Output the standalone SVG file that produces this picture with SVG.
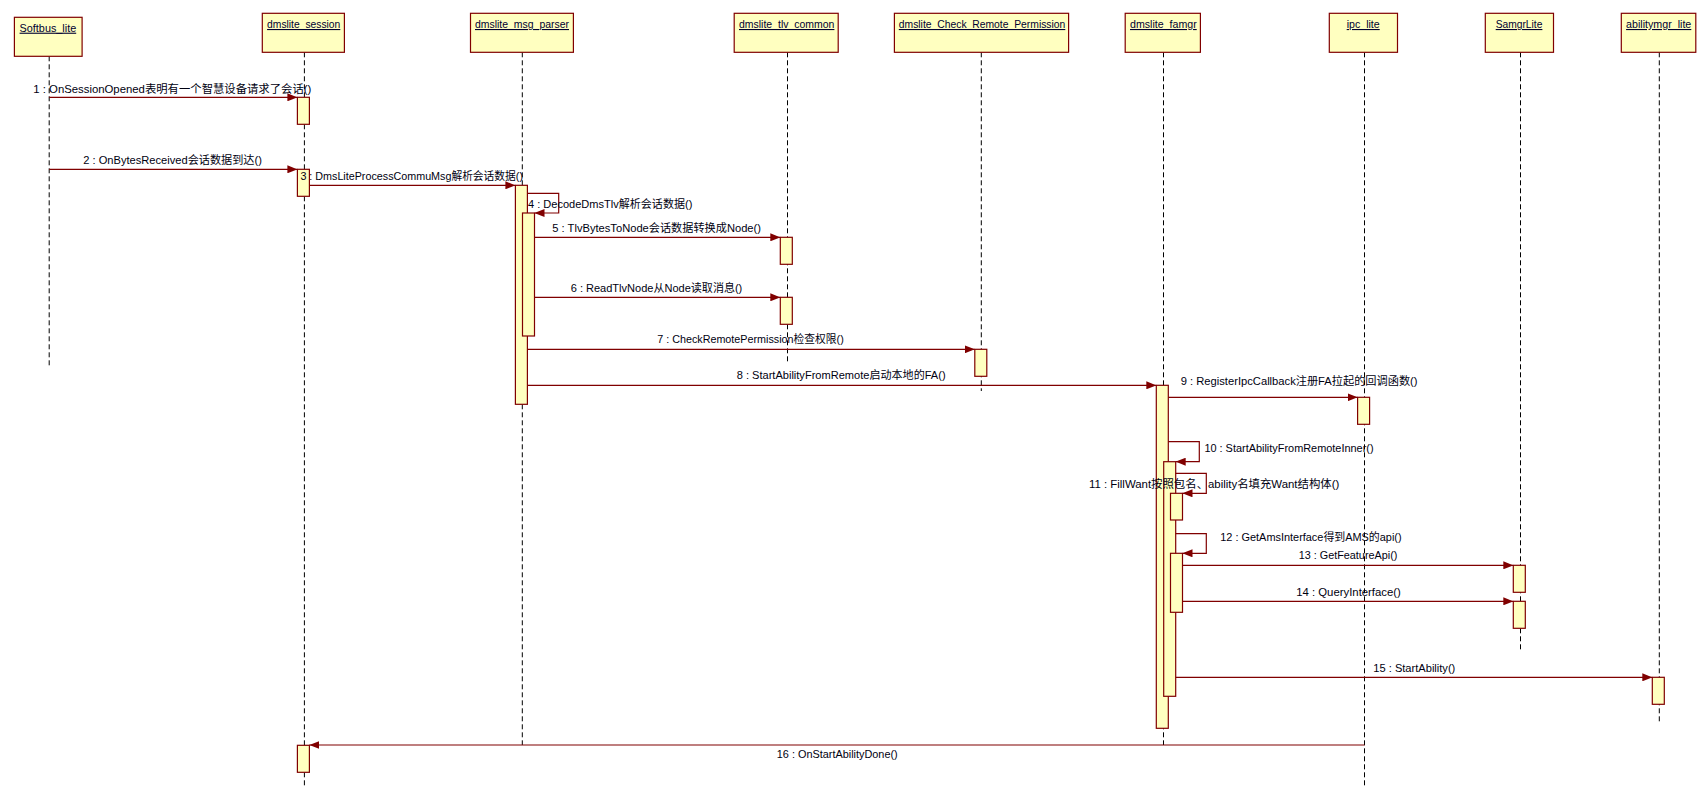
<svg xmlns="http://www.w3.org/2000/svg" width="1701" height="795" viewBox="0 0 1701 795">
<style>
.bg{fill:#ffffff}
.obj{fill:#ffffc0;stroke:#800000;stroke-width:1.2}
.act{fill:#ffffc0;stroke:#800000;stroke-width:1.2}
.life{stroke:#000000;stroke-width:1;stroke-dasharray:5,3;fill:none}
.hdr{font-family:"Liberation Sans","Noto Sans CJK SC",sans-serif;font-size:11px;fill:#000030;text-decoration:underline}
.msg{stroke:#800000;stroke-width:1.2;fill:none}
.lbl{font-family:"Liberation Sans","Noto Sans CJK SC",sans-serif;font-size:11px;fill:#000010}
</style>
<defs>
<marker id="ah" viewBox="0 0 10 8" refX="10" refY="4" markerWidth="10" markerHeight="8" markerUnits="userSpaceOnUse" orient="auto">
<path d="M0,0 L10,4 L0,8 Z" fill="#800000"/>
</marker>
</defs>
<rect class="bg" x="0" y="0" width="1701" height="795"/>

<g id="softbus_lite">
<line class="life" x1="49.2" y1="56.3" x2="49.2" y2="366"/>
<rect class="obj" x="14.4" y="17.3" width="67.7" height="39"/>
<text class="hdr" x="19.6" y="31.7" textLength="56.6" lengthAdjust="spacingAndGlyphs">Softbus_lite</text>
</g>

<g id="dmslite_session">
<line class="life" x1="304.4" y1="52.3" x2="304.4" y2="788"/>
<rect class="obj" x="262.3" y="13.3" width="82.1" height="39"/>
<text class="hdr" x="267.1" y="28" textLength="73.2" lengthAdjust="spacingAndGlyphs">dmslite_session</text>
<rect class="act" x="297.4" y="97.3" width="12" height="27"/>
<rect class="act" x="297.4" y="169.3" width="12" height="27"/>
<rect class="act" x="297.4" y="745.3" width="12" height="27"/>
</g>

<g id="dmslite_msg_parser">
<line class="life" x1="522.3" y1="52.3" x2="522.3" y2="745"/>
<rect class="obj" x="470.5" y="13.3" width="102.9" height="39"/>
<text class="hdr" x="475" y="28" textLength="94" lengthAdjust="spacingAndGlyphs">dmslite_msg_parser</text>
<rect class="act" x="515.4" y="185.3" width="12" height="219"/>
<rect class="act" x="522.5" y="213" width="12" height="123"/>
</g>

<g id="dmslite_tlv_common">
<line class="life" x1="787.5" y1="52.3" x2="787.5" y2="362"/>
<rect class="obj" x="734.2" y="13.3" width="104" height="39"/>
<text class="hdr" x="739" y="28" textLength="95.4" lengthAdjust="spacingAndGlyphs">dmslite_tlv_common</text>
<rect class="act" x="780.3" y="237.3" width="12" height="27"/>
<rect class="act" x="780.3" y="297.3" width="12" height="27"/>
</g>

<g id="dmslite_Check_Remote_Permission">
<line class="life" x1="981.3" y1="52.3" x2="981.3" y2="391"/>
<rect class="obj" x="894.4" y="13.3" width="174.2" height="39"/>
<text class="hdr" x="898.8" y="28" textLength="166.5" lengthAdjust="spacingAndGlyphs">dmslite_Check_Remote_Permission</text>
<rect class="act" x="974.8" y="349.3" width="12" height="27"/>
</g>

<g id="dmslite_famgr">
<line class="life" x1="1163.5" y1="52.3" x2="1163.5" y2="745"/>
<rect class="obj" x="1125.2" y="13.3" width="75.2" height="39"/>
<text class="hdr" x="1130" y="28" textLength="66.7" lengthAdjust="spacingAndGlyphs">dmslite_famgr</text>
<rect class="act" x="1156.3" y="385.3" width="12" height="343"/>
<rect class="act" x="1163.7" y="461.7" width="12" height="234.6"/>
<rect class="act" x="1170.5" y="493.3" width="12" height="26.7"/>
<rect class="act" x="1170.5" y="553.3" width="12" height="59"/>
</g>

<g id="ipc_lite">
<line class="life" x1="1364.5" y1="52.3" x2="1364.5" y2="788"/>
<rect class="obj" x="1329.3" y="13.3" width="68.2" height="39"/>
<text class="hdr" x="1346.7" y="28" textLength="33" lengthAdjust="spacingAndGlyphs">ipc_lite</text>
<rect class="act" x="1357.6" y="397.3" width="12" height="27"/>
</g>

<g id="SamgrLite">
<line class="life" x1="1520.5" y1="52.3" x2="1520.5" y2="650"/>
<rect class="obj" x="1485.3" y="13.3" width="68.2" height="39"/>
<text class="hdr" x="1495.7" y="28" textLength="46.7" lengthAdjust="spacingAndGlyphs">SamgrLite</text>
<rect class="act" x="1513.3" y="565.3" width="12" height="27"/>
<rect class="act" x="1513.3" y="601.3" width="12" height="27"/>
</g>

<g id="abilitymgr_lite">
<line class="life" x1="1659.3" y1="52.3" x2="1659.3" y2="722"/>
<rect class="obj" x="1621.3" y="13.3" width="74.5" height="39"/>
<text class="hdr" x="1626.1" y="28" textLength="65.2" lengthAdjust="spacingAndGlyphs">abilitymgr_lite</text>
<rect class="act" x="1652.3" y="677.3" width="12" height="27"/>
</g>

<g id="connectors">
<line class="msg" x1="49.2" y1="97.3" x2="297.4" y2="97.3" marker-end="url(#ah)"/>
<line class="msg" x1="49.2" y1="169.3" x2="297.4" y2="169.3" marker-end="url(#ah)"/>
<line class="msg" x1="309.4" y1="185.3" x2="515.4" y2="185.3" marker-end="url(#ah)"/>
<path class="msg" d="M527.4,193.3 H558.7 V213 H534.5" marker-end="url(#ah)"/>
<line class="msg" x1="534.5" y1="237.3" x2="780.3" y2="237.3" marker-end="url(#ah)"/>
<line class="msg" x1="534.5" y1="297.3" x2="780.3" y2="297.3" marker-end="url(#ah)"/>
<line class="msg" x1="527.4" y1="349.3" x2="974.8" y2="349.3" marker-end="url(#ah)"/>
<line class="msg" x1="527.4" y1="385.3" x2="1156.3" y2="385.3" marker-end="url(#ah)"/>
<line class="msg" x1="1168.3" y1="397.3" x2="1357.6" y2="397.3" marker-end="url(#ah)"/>
<path class="msg" d="M1168.3,441.7 H1199.3 V461.7 H1175.7" marker-end="url(#ah)"/>
<path class="msg" d="M1175.7,473.3 H1206.3 V493.3 H1182.5" marker-end="url(#ah)"/>
<path class="msg" d="M1175.7,533.7 H1206.3 V553.3 H1182.5" marker-end="url(#ah)"/>
<line class="msg" x1="1182.5" y1="565.3" x2="1513.3" y2="565.3" marker-end="url(#ah)"/>
<line class="msg" x1="1182.5" y1="601.3" x2="1513.3" y2="601.3" marker-end="url(#ah)"/>
<line class="msg" x1="1175.7" y1="677.3" x2="1652.3" y2="677.3" marker-end="url(#ah)"/>
<line class="msg" x1="1364.5" y1="745" x2="309.4" y2="745" marker-end="url(#ah)"/>

<text class="lbl" x="33.3" y="92.7" textLength="278" lengthAdjust="spacingAndGlyphs">1 : OnSessionOpened表明有一个智慧设备请求了会话()</text>
<text class="lbl" x="83.2" y="164.3" textLength="178.7" lengthAdjust="spacingAndGlyphs">2 : OnBytesReceived会话数据到达()</text>
<text class="lbl" x="300.4" y="180" textLength="222.6" lengthAdjust="spacingAndGlyphs">3 : DmsLiteProcessCommuMsg解析会话数据()</text>
<text class="lbl" x="528" y="208.3" textLength="164.3" lengthAdjust="spacingAndGlyphs">4 : DecodeDmsTlv解析会话数据()</text>
<text class="lbl" x="552.3" y="232.3" textLength="208.7" lengthAdjust="spacingAndGlyphs">5 : TlvBytesToNode会话数据转换成Node()</text>
<text class="lbl" x="570.7" y="292.3" textLength="171.6" lengthAdjust="spacingAndGlyphs">6 : ReadTlvNode从Node读取消息()</text>
<text class="lbl" x="657.2" y="343.3" textLength="186.6" lengthAdjust="spacingAndGlyphs">7 : CheckRemotePermission检查权限()</text>
<text class="lbl" x="736.7" y="379.3" textLength="208.9" lengthAdjust="spacingAndGlyphs">8 : StartAbilityFromRemote启动本地的FA()</text>
<text class="lbl" x="1180.7" y="385" textLength="236.9" lengthAdjust="spacingAndGlyphs">9 : RegisterIpcCallback注册FA拉起的回调函数()</text>
<text class="lbl" x="1204.4" y="452.3" textLength="169.2" lengthAdjust="spacingAndGlyphs">10 : StartAbilityFromRemoteInner()</text>
<text class="lbl" x="1089" y="487.7" textLength="250.3" lengthAdjust="spacingAndGlyphs">11 : FillWant按照包名、ability名填充Want结构体()</text>
<text class="lbl" x="1220.3" y="540.7" textLength="181.3" lengthAdjust="spacingAndGlyphs">12 : GetAmsInterface得到AMS的api()</text>
<text class="lbl" x="1298.7" y="559.3" textLength="98.7" lengthAdjust="spacingAndGlyphs">13 : GetFeatureApi()</text>
<text class="lbl" x="1296.2" y="596" textLength="104.7" lengthAdjust="spacingAndGlyphs">14 : QueryInterface()</text>
<text class="lbl" x="1373.3" y="672" textLength="82" lengthAdjust="spacingAndGlyphs">15 : StartAbility()</text>
<text class="lbl" x="776.8" y="757.7" textLength="120.9" lengthAdjust="spacingAndGlyphs">16 : OnStartAbilityDone()</text>
</g>
</svg>
